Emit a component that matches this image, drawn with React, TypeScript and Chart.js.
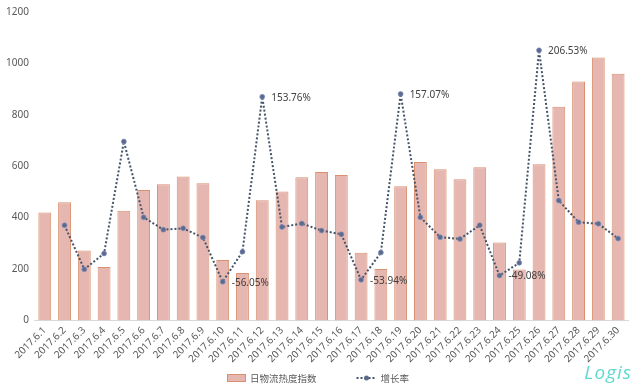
import React, { useEffect, useRef } from "react";
import { Chart, registerables } from "chart.js";

Chart.register(...registerables);

const categories: string[] = [
  "2017.6.1", "2017.6.2", "2017.6.3", "2017.6.4", "2017.6.5", "2017.6.6", "2017.6.7", "2017.6.8",
  "2017.6.9", "2017.6.10", "2017.6.11", "2017.6.12", "2017.6.13", "2017.6.14", "2017.6.15",
  "2017.6.16", "2017.6.17", "2017.6.18", "2017.6.19", "2017.6.20", "2017.6.21", "2017.6.22",
  "2017.6.23", "2017.6.24", "2017.6.25", "2017.6.26", "2017.6.27", "2017.6.28", "2017.6.29",
  "2017.6.30",
];

const heatIndex: number[] = [
  420, 460, 272, 208, 427, 507, 530, 560, 534, 235, 184, 468, 502, 557, 577,
  566, 263, 200, 522, 616, 588, 549, 596, 303, 198, 608, 831, 930, 1023, 960,
];

const growthRate: (number | null)[] = [
  null, 8, -42, -24, 103, 17, 3, 4.5, -6, -56.05, -22, 153.76, 6, 10, 2,
  -2.3, -53.94, -23, 157.07, 17, -5.5, -7.5, 8, -49.08, -34.7, 206.53, 36, 11.5, 9.7, -7,
];

const labelledPoints: number[] = [9, 11, 16, 18, 23, 25];

const yTicks: number[] = [0, 200, 400, 600, 800, 1000, 1200];

const seriesNames: string[] = ["日物流热度指数", "增长率"];

const BAR_FILL = "#E6B6B0";
const BAR_BORDER = "#D9906E";
const LINE_COLOR = "#44546A";
const TEXT_COLOR = "#595959";
const FONT = "'Noto Sans', 'Noto Sans CJK SC', sans-serif";

const pointLabelPlugin = {
  id: "pointLabels",
  afterDatasetsDraw(chart: any) {
    const meta = chart.getDatasetMeta(1);
    const ctx = chart.ctx;
    ctx.save();
    ctx.font = `10px ${FONT}`;
    ctx.fillStyle = "#404040";
    ctx.textAlign = "left";
    ctx.textBaseline = "middle";
    labelledPoints.forEach((i) => {
      const el = meta.data[i];
      const v = growthRate[i];
      if (!el || v == null) return;
      ctx.fillText(`${v.toFixed(2)}%`, el.x + 9, el.y + 1);
    });
    ctx.restore();
  },
};

const legendPlugin = {
  id: "customLegend",
  afterDraw(chart: any) {
    const ctx = chart.ctx;
    const y = 378;
    ctx.save();
    ctx.font = `9.5px 'Noto Sans CJK SC', sans-serif`;
    ctx.textBaseline = "middle";
    ctx.fillStyle = TEXT_COLOR;
    const w0 = ctx.measureText(seriesNames[0]).width;
    const w1 = ctx.measureText(seriesNames[1]).width;
    const total = 19 + 4 + w0 + 40 + 20 + 4 + w1;
    let x = 318 - total / 2;
    ctx.fillStyle = BAR_FILL;
    ctx.fillRect(x, y - 4, 19, 8);
    ctx.strokeStyle = BAR_BORDER;
    ctx.lineWidth = 1;
    ctx.strokeRect(x + 0.5, y - 3.5, 18, 7);
    x += 23;
    ctx.fillStyle = TEXT_COLOR;
    ctx.fillText(seriesNames[0], x, y);
    x += w0 + 40;
    ctx.strokeStyle = LINE_COLOR;
    ctx.lineWidth = 2;
    ctx.setLineDash([2, 2]);
    ctx.beginPath();
    ctx.moveTo(x, y);
    ctx.lineTo(x + 20, y);
    ctx.stroke();
    ctx.setLineDash([]);
    ctx.fillStyle = "#5B6B8C";
    ctx.beginPath();
    ctx.arc(x + 10, y, 2.5, 0, Math.PI * 2);
    ctx.fill();
    x += 24;
    ctx.fillStyle = TEXT_COLOR;
    ctx.fillText(seriesNames[1], x, y);
    ctx.restore();
  },
};

export default function App() {
  const canvasRef = useRef<HTMLCanvasElement | null>(null);

  useEffect(() => {
    document.body.style.margin = "0";
    const canvas = canvasRef.current;
    if (!canvas) return;
    const chart = new Chart(canvas, {
      type: "bar",
      data: {
        labels: categories,
        datasets: [
          {
            type: "bar",
            label: seriesNames[0],
            data: heatIndex,
            backgroundColor: BAR_FILL,
            borderColor: BAR_BORDER,
            borderWidth: 1,
            barPercentage: 0.65,
            categoryPercentage: 1,
            yAxisID: "y",
            order: 2,
          },
          {
            type: "line",
            label: seriesNames[1],
            data: growthRate,
            borderColor: LINE_COLOR,
            borderWidth: 2,
            borderDash: [2, 2],
            pointRadius: 2.5,
            pointBackgroundColor: "#5B6B8C",
            pointBorderColor: "rgba(140,150,200,0.6)",
            pointBorderWidth: 1,
            tension: 0,
            spanGaps: false,
            yAxisID: "y1",
            order: 1,
          },
        ],
      },
      options: {
        responsive: false,
        animation: false,
        devicePixelRatio: 1,
        layout: { padding: { left: 0, right: 12, top: 10, bottom: 18 } },
        plugins: {
          legend: { display: false },
          tooltip: { enabled: false },
        },
        scales: {
          x: {
            grid: { display: false, drawTicks: false },
            border: { display: true, color: "#D9D9D9" },
            ticks: {
              color: TEXT_COLOR,
              font: { size: 10, family: FONT },
              minRotation: 45,
              maxRotation: 45,
              autoSkip: false,
              padding: 4,
            },
          },
          y: {
            min: 0,
            max: 1200,
            afterBuildTicks: (axis: any) => {
              axis.ticks = yTicks.map((v) => ({ value: v }));
            },
            grid: { display: false, drawTicks: false },
            border: { display: false },
            ticks: {
              color: TEXT_COLOR,
              font: { size: 10, family: FONT },
              padding: 6,
              callback: (v: any) => String(v),
            },
          },
          y1: {
            display: false,
            min: -100,
            max: 250,
          },
        },
      },
      plugins: [pointLabelPlugin, legendPlugin],
    });
    return () => chart.destroy();
  }, []);

  return (
    <div style={{ position: "relative", width: 640, height: 387 }}>
      <canvas ref={canvasRef} width={640} height={387} />
      <div
        style={{
          position: "absolute",
          right: 8,
          bottom: 2,
          fontFamily: "'Open Sans', sans-serif",
          fontStyle: "italic",
          fontSize: 19,
          color: "#5FD8D0",
          letterSpacing: 1,
        }}
      >
        Logis
      </div>
    </div>
  );
}
